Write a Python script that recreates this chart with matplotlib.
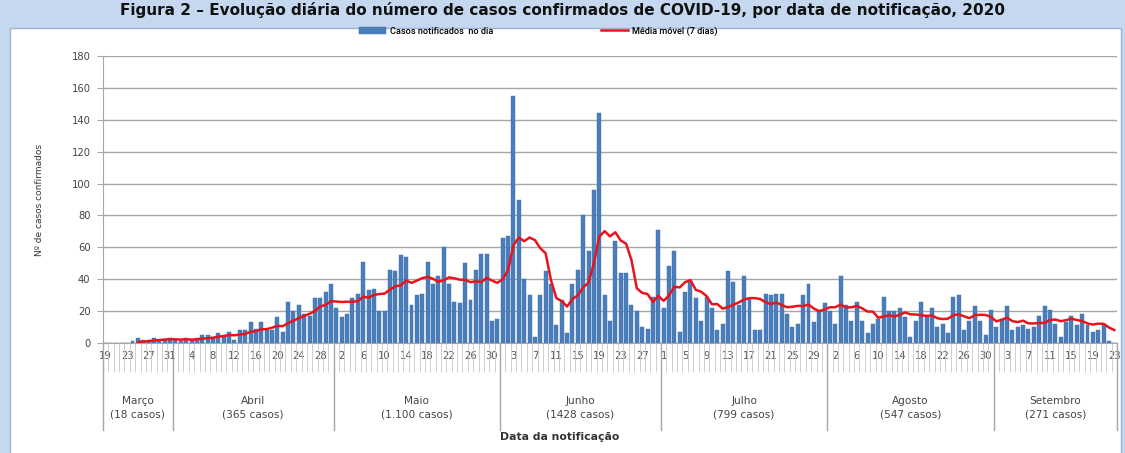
import matplotlib
matplotlib.use('Agg')
import matplotlib.pyplot as plt
import matplotlib.transforms as mtransforms
from matplotlib.patches import Rectangle
from matplotlib.lines import Line2D
import numpy as np
import pandas as pd

# ---------------- data ----------------
months = ['Março', 'Abril', 'Maio', 'Junho', 'Julho', 'Agosto', 'Setembro']
month_totals = ['(18 casos)', '(365 casos)', '(1.100 casos)', '(1428 casos)',
                '(799 casos)', '(547 casos)', '(271 casos)']
month_first_day = [19, 1, 1, 1, 1, 1, 1]

cases_mar = [0, 0, 0, 0, 0, 1, 3, 2, 2, 3, 2, 2, 3]
cases_apr = [2, 1, 3, 2, 3, 5, 5, 4, 6, 5, 7, 2, 8, 8, 13, 9, 13, 8, 8, 16,
             7, 26, 20, 24, 18, 17, 28, 28, 32, 37]
cases_may = [22, 16, 18, 28, 31, 51, 33, 34, 20, 20, 46, 45, 55, 54, 24, 30,
             31, 51, 37, 42, 60, 37, 26, 25, 50, 27, 46, 56, 56, 14, 15]
cases_jun = [66, 67, 155, 90, 40, 30, 4, 30, 45, 37, 11, 27, 6, 37, 46, 80,
             58, 96, 144, 30, 14, 64, 44, 44, 24, 20, 10, 9, 29, 71]
cases_jul = [22, 48, 58, 7, 32, 38, 28, 14, 29, 22, 8, 12, 45, 38, 24, 42,
             28, 8, 8, 31, 30, 31, 31, 18, 10, 12, 30, 37, 13, 20, 25]
cases_aug = [20, 12, 42, 24, 14, 26, 14, 6, 12, 15, 29, 20, 20, 22, 16, 4,
             14, 26, 17, 22, 10, 12, 6, 29, 30, 8, 14, 23, 14, 5, 21]
cases_sep = [10, 15, 23, 8, 10, 11, 9, 10, 17, 23, 21, 12, 4, 13, 17, 11,
             18, 11, 7, 8, 12, 1, 0]

monthly = [cases_mar, cases_apr, cases_may, cases_jun, cases_jul, cases_aug, cases_sep]

cases = []
day_numbers = []
month_bounds = []
for first, vals in zip(month_first_day, monthly):
    month_bounds.append(len(cases))
    cases += vals
    day_numbers += list(range(first, first + len(vals)))
month_bounds.append(len(cases))

cases = np.array(cases)
x = np.arange(len(cases))
moving_avg = pd.Series(cases).rolling(7).mean()

# ---------------- figure ----------------
W, H = 1125, 453
fig = plt.figure(figsize=(W / 100, H / 100), dpi=100)
fig.patch.set_facecolor('#C5D8EF')

# white chart panel
fig.add_artist(Rectangle((10 / W, -0.02), 1111 / W, (H - 28) / H + 0.02,
                         transform=fig.transFigure, facecolor='white',
                         edgecolor='#9FB4CE', linewidth=1.0, zorder=0))

# title in the top strip
fig.text(0.5, (H - 2) / H,
         'Figura 2 – Evolução diária do número de casos confirmados de COVID-19, por data de notificação, 2020',
         ha='center', va='top', fontsize=11, fontweight='bold', color='#111111')

ax = fig.add_axes([103 / W, (H - 343) / H, (1117 - 103) / W, (343 - 56) / H])
ax.set_facecolor('white')

ax.bar(x, cases, width=0.74, color='#4A7EBB', edgecolor='#3E6EA8', linewidth=0.3,
       zorder=2, label='Casos notificados  no dia')
ax.plot(x, moving_avg, color='#E8141C', linewidth=1.8, zorder=3,
        label='Média móvel (7 dias)')

ax.set_xlim(-0.5, len(cases) - 0.5)
ax.set_ylim(0, 180)
ax.set_yticks(np.arange(0, 181, 20))
ax.yaxis.grid(True, color='#A6A6A6', linewidth=1.0, zorder=0)
ax.set_axisbelow(True)
for s in ['top', 'right']:
    ax.spines[s].set_visible(False)
ax.spines['left'].set_color('#A6A6A6')
ax.spines['bottom'].set_color('#A6A6A6')
ax.tick_params(axis='y', length=4, color='#A6A6A6', labelsize=7.2,
               labelcolor='#444444', pad=5)
ax.set_ylabel('Nº de casos confirmados', fontsize=6.5, color='#333333', labelpad=20)

# x: label every 4 days, tick marks between every day
label_pos = x[::4]
ax.set_xticks(label_pos)
ax.set_xticklabels([str(day_numbers[i]) for i in label_pos], fontsize=7.2,
                   color='#555555')
ax.tick_params(axis='x', which='major', length=0, pad=6)
ax.set_xticks(np.arange(-0.5, len(cases), 1.0), minor=True)
ax.tick_params(axis='x', which='minor', length=21, width=0.6, color='#C8C8C8',
               direction='out')

# month separators and labels
trans = mtransforms.blended_transform_factory(ax.transData, ax.transAxes)
ax_h = 343 - 56
for b in month_bounds:
    ax.add_line(Line2D([b - 0.5, b - 0.5], [0, -(430 - 343) / ax_h],
                       transform=trans, color='#A6A6A6', linewidth=1.0,
                       clip_on=False))
for k, (name, tot) in enumerate(zip(months, month_totals)):
    mid = (month_bounds[k] + month_bounds[k + 1] - 1) / 2
    ax.text(mid, -(408 - 343) / ax_h, name + '\n' + tot, transform=trans,
            ha='center', va='center', fontsize=7.6, color='#444444',
            linespacing=1.4)

ax.text(0.45, -(437 - 343) / ax_h, 'Data da notificação', transform=ax.transAxes,
        ha='center', va='center', fontsize=7.8, fontweight='bold', color='#333333')

# legend
handles, labels = ax.get_legend_handles_labels()
fig.legend(handles[::-1], labels[::-1], loc='center',
           bbox_to_anchor=(538 / W, (H - 31) / H), ncol=2, frameon=False,
           prop={'family': 'Roboto', 'size': 6.6, 'weight': 'medium'},
           handlelength=3.0, handleheight=0.7, columnspacing=11.8,
           handletextpad=0.35)

fig.savefig('out.png', dpi=100, facecolor=fig.get_facecolor())
